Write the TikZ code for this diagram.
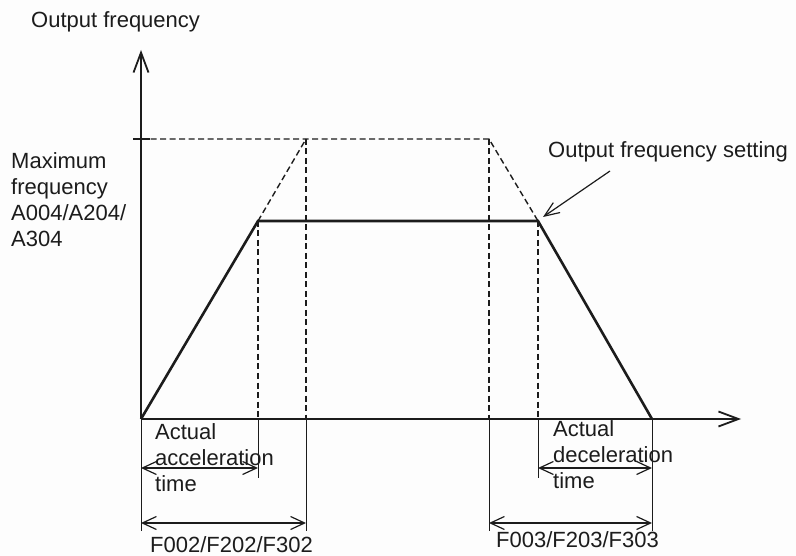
\documentclass[tikz,border=0pt]{standalone}
\usepackage{fontspec}
\setmainfont{Liberation Sans}
\usepackage{xcolor}
\usepackage{tikz}
\usetikzlibrary{arrows.meta,positioning}
\definecolor{vfInk}{HTML}{1C1C1C}
\definecolor{vfPaper}{HTML}{FDFDFD}
\tikzset{
  vf diagram/.style={font=\fontsize{22}{26}\selectfont, text=vfInk,
    line join=miter},
  vf axis/.style={draw=vfInk, line width=1.8pt,
    -{Straight Barb[length=20pt,width=15pt]}},
  vf curve/.style={draw=vfInk, line width=2.6pt},
  vf guide/.style={draw=vfInk, line width=1.4pt, dash pattern=on 6pt off 3.5pt},
  vf ext/.style={draw=vfInk, line width=1pt},
  vf dim/.style={draw=vfInk, line width=1.2pt,
    {Straight Barb[length=14pt,width=13pt]}-{Straight Barb[length=14pt,width=13pt]}},
  vf pointer/.style={draw=vfInk, line width=1.2pt,
    -{Straight Barb[length=15pt,width=12pt]}},
  vf label/.style={inner sep=0pt, anchor=base west, align=left}
}
\begin{document}
\begin{tikzpicture}[vf diagram,x=1pt,y=-1pt]
\useasboundingbox[fill=vfPaper] (0,0) rectangle (796,556);
% key points of the speed profile
\coordinate (O) at (141,419);
\coordinate (ytop) at (141,50);
\coordinate (xend) at (741,419);
\coordinate (fmax) at (141,139);
\coordinate (accP) at (306,139);
\coordinate (decP) at (489,139);
\coordinate (A) at (258,221);
\coordinate (B) at (538,221);
\coordinate (C) at (652,419);
% rows of the time dimensions
\coordinate (rowT) at (0,468);
\coordinate (rowS) at (0,478);
\coordinate (rowF) at (0,523);
\coordinate (rowE) at (0,531);
% axes
\draw[vf axis] (O) -- (ytop);
\draw[vf axis] (O) -- (xend);
\draw[draw=vfInk, line width=1.8pt] ([xshift=-8]fmax) -- ([xshift=9]fmax);
% set ramps and guides
\draw[vf guide] (fmax) -- (accP) -- (decP) -- (B);
\draw[vf guide] (A) -- (accP);
\foreach \p in {A,accP,decP,B}
  \draw[vf guide] (\p) -- (\p |- O);
% actual output
\draw[vf curve] (O) -- (A) -- (B) -- (C);
% time dimensions
\draw[vf ext] (O) -- (O |- rowE);
\draw[vf ext] (A |- O) -- (A |- rowS);
\draw[vf ext] (accP |- O) -- (accP |- rowE);
\draw[vf ext] (decP |- O) -- (decP |- rowE);
\draw[vf ext] (B |- O) -- (B |- rowS);
\draw[vf ext] (C) -- (C |- rowE);
\draw[vf dim] (O |- rowT) -- (A |- rowT);
\draw[vf dim] (O |- rowF) -- (accP |- rowF);
\draw[vf dim] (B |- rowT) -- (C |- rowT);
\draw[vf dim] (decP |- rowF) -- (C |- rowF);
% labels (multi-line ones sit on their last line)
\node[vf label] (ylab) at (31,28) {Output frequency};
\node[vf label] (fmaxlab) at (11,247) {Maximum\\frequency\\A004/A204/\\A304};
\node[vf label] (setlab) at (548,158) {Output frequency setting};
\node[vf label] (acclab) at (155,491) {Actual\\acceleration\\time};
\node[vf label] (declab) at (553,488) {Actual\\deceleration\\time};
\node[vf label] (Facc) at (150,552) {F002/F202/F302};
\node[vf label] (Fdec) at (496,547) {F003/F203/F303};
\coordinate (setfrom) at (610,171);
\draw[vf pointer] (setfrom) -- ([shift={(5,-4)}]B);
\end{tikzpicture}
\end{document}
